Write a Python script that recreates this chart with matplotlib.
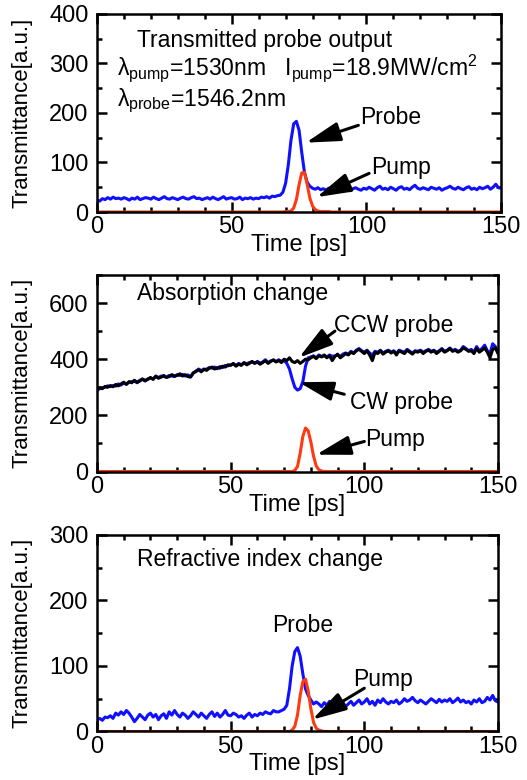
import numpy as np
import matplotlib
matplotlib.use("Agg")
import matplotlib.pyplot as plt
from matplotlib.ticker import MultipleLocator

plt.rcParams['font.family'] = ['Liberation Sans', 'DejaVu Sans']
plt.rcParams['mathtext.fontset'] = 'custom'
plt.rcParams['mathtext.rm'] = 'Liberation Sans'
plt.rcParams['mathtext.it'] = 'Liberation Sans:italic'
plt.rcParams['mathtext.default'] = 'regular'

time_ps = np.arange(0, 151)

# ---- Panel 1: Transmitted probe output ----
top_probe = [24, 22, 27, 25, 29, 26, 30, 27, 28, 26,
             29, 27, 24, 28, 26, 30, 25, 27, 29, 28,
             26, 30, 27, 25, 28, 31, 27, 26, 29, 27,
             25, 28, 30, 27, 26, 29, 31, 27, 28, 25,
             27, 29, 26, 30, 27, 25, 28, 31, 26, 28,
             29, 26, 27, 30, 25, 28, 27, 29, 26, 28,
             27, 30, 29, 31, 28, 32, 31, 33, 34, 40,
             58, 95, 145, 178, 183, 165, 120, 80, 60, 52,
             48, 46, 49, 45, 47, 44, 48, 46, 45, 47,
             44, 46, 48, 45, 43, 47, 49, 46, 44, 48,
             46, 50, 47, 44, 49, 52, 46, 48, 45, 50,
             47, 44, 49, 51, 46, 48, 45, 50, 54, 48,
             46, 49, 47, 45, 50, 48, 46, 49, 44, 47,
             49, 52, 48, 46, 50, 47, 45, 49, 51, 46,
             48, 45, 50, 47, 49, 52, 46, 50, 56, 49,
             48]
top_pump = [0] * 70 + [1, 1, 2, 8, 25, 55, 79, 80, 56, 28,
                       12, 5, 2, 1, 1, 1, 1] + [0] * 64

# ---- Panel 2: Absorption change ----
mid_ccw = [292, 298, 295, 303, 300, 306, 302, 310, 305, 312,
           318, 310, 320, 316, 325, 318, 322, 330, 324, 328,
           335, 328, 340, 332, 336, 342, 335, 338, 345, 340,
           342, 348, 340, 345, 338, 336, 350, 358, 362, 355,
           365, 360, 368, 372, 365, 370, 368, 375, 372, 380,
           378, 385, 375, 382, 378, 388, 380, 385, 392, 386,
           390, 382, 388, 395, 385, 392, 398, 390, 395, 388,
           400, 395, 405, 392, 388, 395, 385, 392, 400, 398,
           405, 410, 402, 412, 408, 415, 405, 412, 395, 410,
           418, 405, 412, 420, 415, 425, 420, 430, 435, 428,
           420, 430, 415, 395, 425, 420, 430, 418, 425, 430,
           422, 428, 415, 430, 425, 420, 432, 425, 418, 428,
           425, 430, 420, 428, 432, 425, 430, 420, 428, 435,
           425, 430, 438, 428, 432, 425, 430, 440, 435, 428,
           430, 420, 438, 425, 432, 440, 425, 405, 435, 440,
           420]
mid_cw = [288, 295, 298, 300, 305, 302, 306, 304, 312, 308,
          315, 312, 318, 320, 322, 316, 325, 328, 322, 330,
          332, 330, 338, 335, 340, 338, 336, 342, 340, 338,
          345, 342, 346, 340, 344, 338, 352, 355, 365, 360,
          362, 365, 370, 368, 372, 366, 374, 370, 378, 376,
          380, 382, 378, 385, 380, 386, 384, 388, 390, 385,
          392, 386, 390, 398, 388, 394, 396, 392, 398, 392,
          395, 385, 365, 330, 300, 290, 295, 320, 375, 405,
          408, 412, 405, 415, 410, 412, 408, 415, 410, 412,
          415, 410, 418, 422, 418, 428, 422, 432, 438, 430,
          425, 432, 422, 415, 428, 425, 432, 422, 428, 432,
          425, 430, 420, 432, 428, 425, 435, 428, 422, 430,
          428, 432, 425, 430, 435, 428, 432, 425, 430, 438,
          428, 432, 440, 430, 435, 428, 432, 445, 438, 430,
          435, 425, 445, 430, 438, 450, 430, 420, 455, 445,
          425]
mid_pump = [0] * 74 + [4, 18, 65, 125, 155, 145, 105, 55, 20, 6, 2] + [0] * 66

# ---- Panel 3: Refractive index change ----
bot_probe = [18, 20, 17, 22, 21, 24, 20, 28, 25, 30,
             26, 32, 28, 22, 15, 20, 26, 22, 18, 25,
             28, 22, 26, 18, 24, 27, 20, 30, 25, 32,
             26, 22, 28, 25, 20, 24, 30, 26, 22, 28,
             24, 20, 26, 30, 23, 28, 22, 26, 32, 25,
             24, 28, 26, 22, 24, 20, 25, 28, 22, 26,
             24, 28, 26, 30, 28, 27, 32, 30, 30, 32,
             34, 40, 65, 100, 122, 128, 115, 88, 65, 55,
             48, 42, 45, 42, 38, 44, 40, 46, 42, 38,
             45, 40, 44, 38, 42, 46, 40, 44, 48, 42,
             45, 50, 42, 46, 40, 48, 44, 50, 45, 42,
             46, 44, 48, 42, 45, 50, 46, 48, 52, 47,
             44, 48, 45, 42, 46, 50, 47, 44, 49, 45,
             48, 46, 50, 44, 47, 51, 45, 48, 44, 46,
             42, 48, 45, 50, 44, 46, 52, 48, 55, 47,
             45]
bot_pump = [0] * 73 + [2, 8, 25, 55, 76, 80, 62, 35, 14, 5, 2, 1] + [0] * 66

BLUE = '#1010ff'
RED = '#ff3a10'
FS = 17
TS = 16.5
LW = 2.2

fig = plt.figure(figsize=(5.27, 7.80), dpi=100)
ax1 = fig.add_axes([0.184, 0.7282, 0.767, 0.254])
ax2 = fig.add_axes([0.184, 0.3955, 0.761, 0.252])
ax3 = fig.add_axes([0.184, 0.0622, 0.761, 0.252])


def style(ax, ymax, ymaj):
    ax.set_xlim(0, 150)
    ax.set_ylim(0, ymax)
    ax.xaxis.set_major_locator(MultipleLocator(50))
    ax.xaxis.set_minor_locator(MultipleLocator(10))
    ax.yaxis.set_major_locator(MultipleLocator(ymaj))
    ax.yaxis.set_minor_locator(MultipleLocator(ymaj / 2))
    ax.tick_params(which='both', direction='in', top=True, right=True,
                   labelsize=FS, width=1.8)
    ax.tick_params(which='major', length=7, pad=3)
    ax.tick_params(which='minor', length=3.5)
    ax.tick_params(axis='y', which='major', pad=6)
    for s in ax.spines.values():
        s.set_linewidth(1.8)
    ax.set_xlabel('Time [ps]', fontsize=FS, labelpad=-3)
    ax.set_ylabel('Transmittance[a.u.]', fontsize=16, labelpad=12)


def arrow(ax, head, tail):
    ax.annotate('', xy=head, xytext=tail,
                arrowprops=dict(arrowstyle='-|>,head_length=1.5,head_width=0.42',
                                color='black', lw=2.2, mutation_scale=14,
                                shrinkA=0, shrinkB=0))


# Panel 1
ax1.plot(time_ps, top_probe, color=BLUE, lw=LW)
ax1.plot(time_ps, top_pump, color=RED, lw=LW)
style(ax1, 400, 100)
ax1.text(15, 347, 'Transmitted probe output', fontsize=TS, va='center')
ax1.text(7.5, 290, r'$\lambda_{pump}$=1530nm   $I_{pump}$=18.9MW/cm$^{2}$',
         fontsize=TS, va='center')
ax1.text(7.5, 224, r'$\lambda_{probe}$=1546.2nm', fontsize=TS, va='center')
ax1.text(109, 190, 'Probe', fontsize=TS, ha='center', va='center')
arrow(ax1, (77.5, 140), (97, 175))
ax1.text(113, 89, 'Pump', fontsize=TS, ha='center', va='center')
arrow(ax1, (81.5, 30), (101, 78))

# Panel 2
ax2.plot(time_ps, mid_cw, color=BLUE, lw=LW)
ax2.plot(time_ps, mid_ccw, color='black', lw=LW)
ax2.plot(time_ps, mid_pump, color=RED, lw=LW)
style(ax2, 700, 200)
ax2.text(15, 635, 'Absorption change', fontsize=TS, va='center')
ax2.text(111, 521, 'CCW probe', fontsize=TS, ha='center', va='center')
arrow(ax2, (75.5, 405), (89, 500))
ax2.text(114, 245, 'CW probe', fontsize=TS, ha='center', va='center')
arrow(ax2, (75.5, 318), (92.5, 275))
ax2.text(111.5, 113, 'Pump', fontsize=TS, ha='center', va='center')
arrow(ax2, (82, 60), (100, 107))

# Panel 3
ax3.plot(time_ps, bot_probe, color=BLUE, lw=LW)
ax3.plot(time_ps, bot_pump, color=RED, lw=LW)
style(ax3, 300, 100)
ax3.text(15, 263, 'Refractive index change', fontsize=TS, va='center')
ax3.text(77, 161, 'Probe', fontsize=TS, ha='center', va='center')
ax3.text(107, 79, 'Pump', fontsize=TS, ha='center', va='center')
arrow(ax3, (80.5, 18), (100, 66))

fig.savefig('out.png', dpi=100)
